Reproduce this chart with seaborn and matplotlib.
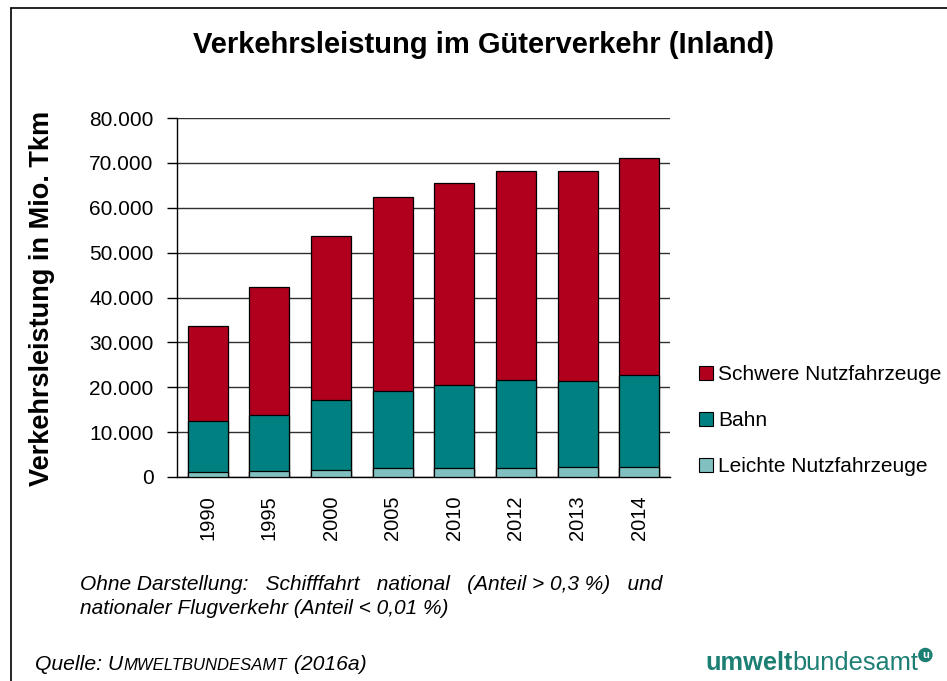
import matplotlib
matplotlib.use("Agg")
import matplotlib.pyplot as plt
import seaborn as sns
import pandas as pd
from matplotlib.patches import Patch
from matplotlib.lines import Line2D
from matplotlib.ticker import FuncFormatter

years = ['1990', '1995', '2000', '2005', '2010', '2012', '2013', '2014']
leichte = [1200, 1400, 1600, 2000, 2100, 2100, 2200, 2300]
bahn = [11300, 12400, 15500, 17200, 18300, 19500, 19200, 20400]
schwere = [21100, 28500, 36600, 43200, 45100, 46600, 46900, 48300]

series = ['Schwere Nutzfahrzeuge', 'Bahn', 'Leichte Nutzfahrzeuge']
colors = ['#B0001E', '#008080', '#80C0C0']

df = pd.DataFrame({'Jahr': years, 'Leichte': leichte, 'Bahn': bahn, 'Schwere': schwere})
df['cum_leichte'] = df['Leichte']
df['cum_bahn'] = df['Leichte'] + df['Bahn']
df['cum_schwere'] = df['cum_bahn'] + df['Schwere']

sns.set_style('white')
plt.rcParams['font.family'] = ['Liberation Sans', 'DejaVu Sans']
for k in ['text.color', 'axes.labelcolor', 'xtick.color', 'ytick.color']:
    plt.rcParams[k] = 'black'

fig = plt.figure(figsize=(9.47, 6.81), dpi=100)
ax = fig.add_axes([177 / 947, 1 - 477 / 681, 493 / 947, 359 / 681])

# stacked bars: draw cumulative totals from top layer down
for col, c in zip(['cum_schwere', 'cum_bahn', 'cum_leichte'], colors):
    sns.barplot(data=df, x='Jahr', y=col, color=c, edgecolor='black',
                linewidth=0.9, width=0.65, saturation=1, ax=ax, zorder=3)

ax.set_xlim(-0.5, len(years) - 0.5)
ax.set_ylim(0, 80000)
ax.set_yticks(range(0, 80001, 10000))
ax.yaxis.set_major_formatter(FuncFormatter(lambda v, p: f'{v:,.0f}'.replace(',', '.')))
ax.yaxis.grid(True, color='#303030', linewidth=1)
ax.set_axisbelow(True)
ax.set_xlabel('')
ax.set_ylabel('')

for s in ['top', 'right']:
    ax.spines[s].set_visible(False)
for s in ['left', 'bottom']:
    ax.spines[s].set_color('black')
    ax.spines[s].set_linewidth(1)

ax.set_xticks(range(len(years)))
ax.set_xticklabels(years, rotation=90, fontsize=14.5)
ax.set_xticks([i - 0.5 for i in range(len(years) + 1)], minor=True)
ax.tick_params(axis='x', which='major', length=0, pad=13)
ax.tick_params(axis='x', which='minor', length=6, width=1, color='black', direction='out')
ax.tick_params(axis='y', which='major', length=7, width=1, color='black', direction='out',
               labelsize=15, pad=10, left=True)

handles = [Patch(facecolor=c, edgecolor='black', linewidth=0.8) for c in colors]
fig.legend(handles, series, loc='upper left', bbox_to_anchor=(699 / 947, 1 - 365 / 681),
           frameon=False, fontsize=15, handlelength=0.65, handleheight=0.65,
           handletextpad=0.25, labelspacing=1.3, borderaxespad=0, borderpad=0)

fig.text(484 / 947, 1 - 45 / 681, 'Verkehrsleistung im Güterverkehr (Inland)',
         ha='center', va='center', fontsize=21, fontweight='bold')
fig.text(42 / 947, 1 - 298 / 681, 'Verkehrsleistung in Mio. Tkm', rotation=90,
         ha='center', va='center', fontsize=19.5, fontweight='bold')

fig.text(80 / 947, 1 - 585 / 681, 'Ohne Darstellung:   Schifffahrt   national   (Anteil > 0,3 %)   und',
         ha='left', va='center', fontsize=15, style='italic')
fig.text(80 / 947, 1 - 608 / 681, 'nationaler Flugverkehr (Anteil < 0,01 %)',
         ha='left', va='center', fontsize=15, style='italic')

# outer frame lines (top and left)
fig.add_artist(Line2D([11 / 947, 1], [1 - 8 / 681, 1 - 8 / 681], color='black', linewidth=1.2))
fig.add_artist(Line2D([11 / 947, 11 / 947], [0, 1 - 8 / 681], color='black', linewidth=1.2))

fig.canvas.draw()
r = fig.canvas.get_renderer()
W, H = fig.bbox.width, fig.bbox.height

# source line with small caps
x0 = 35
yb = 1 - 670 / 681
parts = [('Quelle: U', 15.2), ('MWELTBUNDESAMT', 12), (' (2016a)', 15.2)]
for txt, fs in parts:
    t = fig.text(x0 / W, yb, txt, ha='left', va='baseline', fontsize=fs, style='italic')
    x0 = t.get_window_extent(r).x1 + 0.5

# logo
teal = '#1D7F74'
lx = 705
t1 = fig.text(lx / W, yb, 'umwelt', ha='left', va='baseline', fontsize=18.3,
              fontweight='bold', color=teal)
lx = t1.get_window_extent(r).x1
t2 = fig.text(lx / W, yb, 'bundesamt', ha='left', va='baseline', fontsize=18.3, color=teal)
lx = t2.get_window_extent(r).x1
fig.text((lx + 7) / W, 1 - 655 / 681, 'u', ha='center', va='center', fontsize=8,
         fontweight='bold', color='white',
         bbox=dict(boxstyle='circle,pad=0.2', facecolor=teal, edgecolor='none'))

fig.savefig('out.png', dpi=100)
